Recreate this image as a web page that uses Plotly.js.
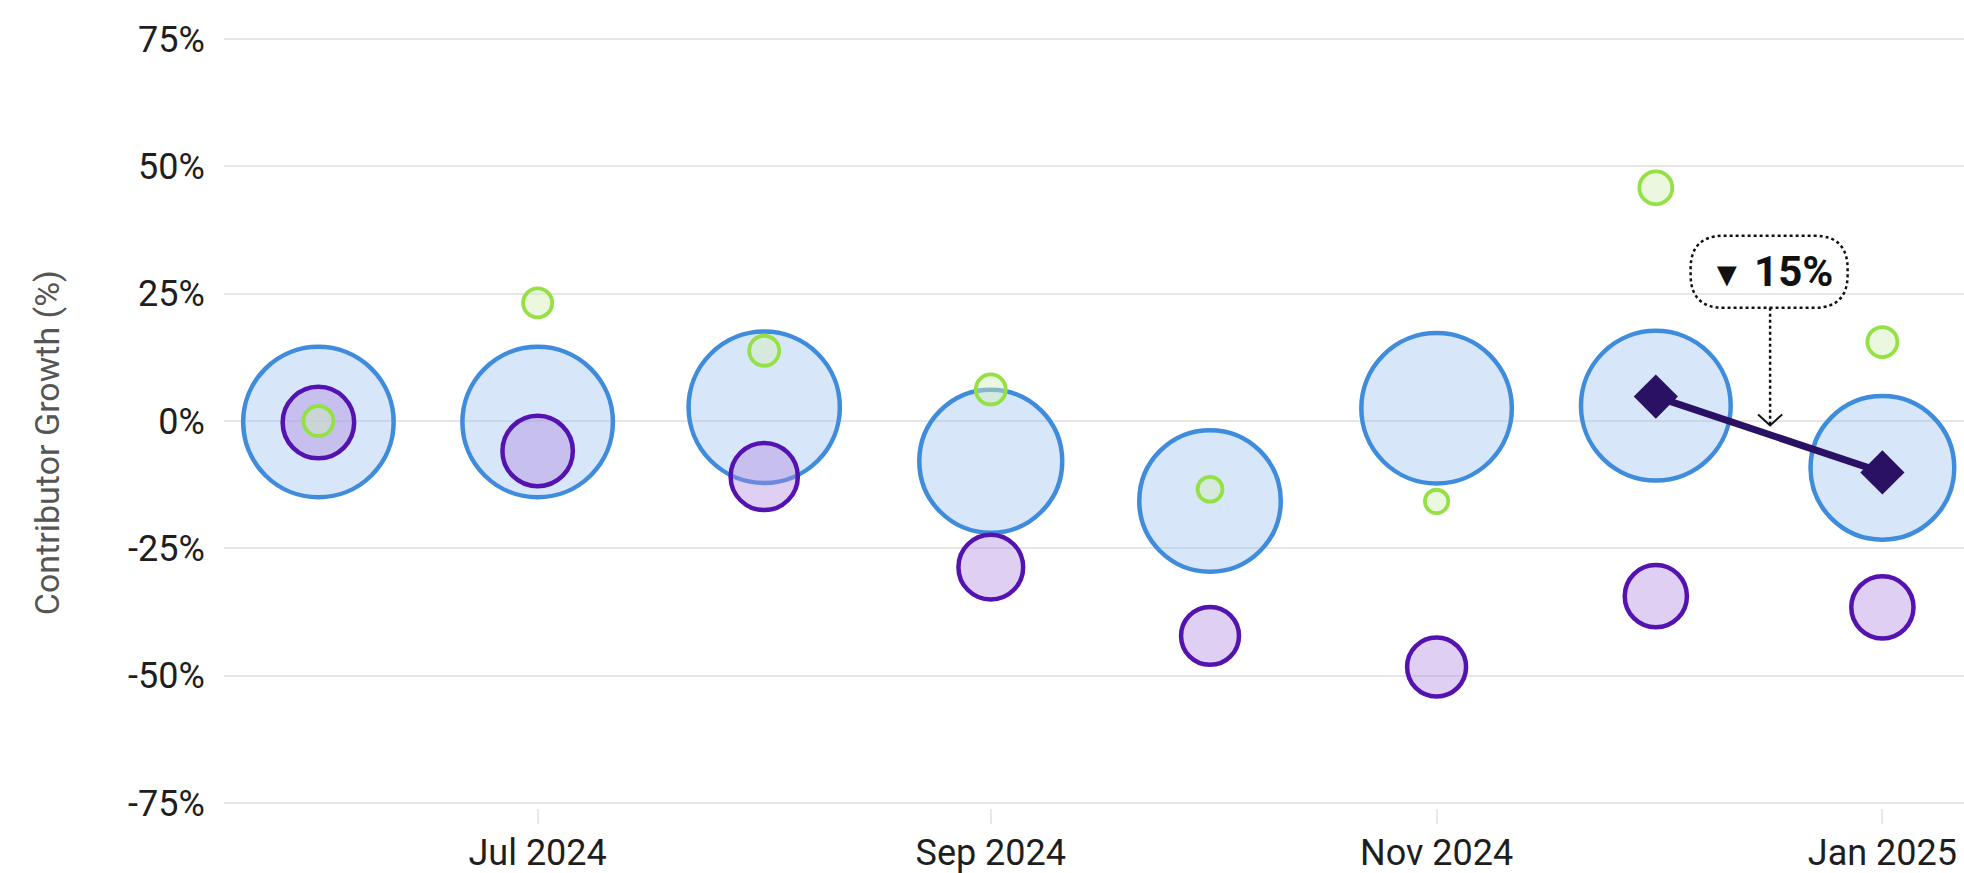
<!DOCTYPE html>
<html>
<head>
<meta charset="utf-8">
<script src="https://cdn.plot.ly/plotly-3.0.1.min.js"></script>
<style>html,body{margin:0;padding:0;background:#fff;}#chart{width:1964px;height:873px;}</style>
</head>
<body>
<div id="chart"></div>
<script>
// ---- data ----
const months = ['2024-06-01','2024-07-01','2024-08-01','2024-09-01','2024-10-01','2024-11-01','2024-12-01','2025-01-01'];
const blueValues   = [-0.2, -0.2, 2.7, -7.9, -15.7, 2.5, 3.0, -9.2];
const purpleValues = [-0.3, -5.9, -10.9, -28.7, -42.2, -48.3, -34.4, -36.6];
const greenValues  = [0.0, 23.2, 13.8, 6.2, -13.4, -15.8, 45.8, 15.5];
const blueMagnitude   = [1.0, 1.0, 1.005, 0.95, 0.94, 1.0, 0.995, 0.955];
const purpleMagnitude = [1.0, 0.985, 0.94, 0.905, 0.81, 0.825, 0.87, 0.87];
const greenMagnitude  = [1.0, 0.97, 1.0, 1.0, 0.83, 0.78, 1.1, 1.0];
const diamondMonths = ['2024-12-01','2025-01-01'];
const diamondValues = [4.8, -10.1];
const yTickVals = [-75, -50, -25, 0, 25, 50, 75];
const yTickText = ['-75%', '-50%', '-25%', '0%', '25%', '50%', '75%'];
const xTickVals = ['2024-07-01','2024-09-01','2024-11-01','2025-01-01'];
const xTickText = ['Jul 2024','Sep 2024','Nov 2024','Jan 2025'];
const yAxisTitle = 'Contributor Growth (%)';

// ---- styles ----
const BLUE_BASE = 150.5, PURPLE_BASE = 71.5, GREEN_BASE = 30;
const FONT = 'Roboto, "Open Sans", sans-serif';

const traces = [
  {
    type: 'scatter', mode: 'markers', x: months, y: blueValues,
    marker: { size: blueMagnitude.map(m => m * BLUE_BASE), opacity: 1, color: 'rgba(150,190,240,0.38)',
              line: { color: '#3f8bdc', width: 4.5 } },
    hoverinfo: 'skip'
  },
  {
    type: 'scatter', mode: 'markers', x: months, y: purpleValues,
    marker: { size: purpleMagnitude.map(m => m * PURPLE_BASE), opacity: 1, color: 'rgba(175,135,225,0.4)',
              line: { color: '#5412b0', width: 4.5 } },
    hoverinfo: 'skip'
  },
  {
    type: 'scatter', mode: 'markers', x: months, y: greenValues,
    marker: { size: greenMagnitude.map(m => m * GREEN_BASE), opacity: 1, color: 'rgba(210,240,185,0.45)',
              line: { color: '#95e044', width: 3.8 } },
    hoverinfo: 'skip'
  },
  {
    type: 'scatter', mode: 'lines+markers', x: diamondMonths, y: diamondValues,
    line: { color: '#2b1163', width: 7 },
    marker: { symbol: 'diamond', size: 34, opacity: 1, color: '#2b1163' },
    hoverinfo: 'skip'
  }
];

// annotation anchored at midpoint of the diamond segment
const t0 = new Date(diamondMonths[0] + 'T00:00:00Z').getTime();
const t1 = new Date(diamondMonths[1] + 'T00:00:00Z').getTime();
const midDate = new Date((t0 + t1) / 2).toISOString().replace('T', ' ').slice(0, 19);
const midVal = (diamondValues[0] + diamondValues[1]) / 2;
const change = Math.round(diamondValues[0] - diamondValues[1]);
const arrowGlyph = diamondValues[1] < diamondValues[0] ? '▼' : '▲';

// box geometry in pixels relative to anchor (y upward)
const bw = 157, bh = 72, br = 33, bcy = 162.7;
const bx0 = -bw / 2, bx1 = bw / 2, by0 = bcy - bh / 2, by1 = bcy + bh / 2;
const boxPath = `M ${bx0 + br} ${by1} L ${bx1 - br} ${by1} Q ${bx1} ${by1} ${bx1} ${by1 - br} L ${bx1} ${by0 + br} Q ${bx1} ${by0} ${bx1 - br} ${by0} L ${bx0 + br} ${by0} Q ${bx0} ${by0} ${bx0} ${by0 + br} L ${bx0} ${by1 - br} Q ${bx0} ${by1} ${bx0 + br} ${by1} Z`;
const stemPath = `M 1 ${by0} L 1 10`;
const headPath = `M -11 20 L 1 9 L 13 20`;

const pixShape = (path, dash, width) => ({
  type: 'path', xref: 'x', yref: 'y', xsizemode: 'pixel', ysizemode: 'pixel',
  xanchor: midDate, yanchor: midVal, path: path,
  line: { color: '#111', width: width, dash: dash }, layer: 'above'
});

const layout = {
  width: 1964, height: 873,
  margin: { l: 224, r: 0, t: 34, b: 65, pad: 0 },
  paper_bgcolor: '#ffffff', plot_bgcolor: '#ffffff',
  showlegend: false,
  font: { family: FONT, color: '#222' },
  xaxis: {
    type: 'date', range: ['2024-05-19 02:00', '2025-01-12 04:00'],
    tickvals: xTickVals, ticktext: xTickText,
    ticks: 'outside', ticklen: 15, tickwidth: 2, tickcolor: '#e8e8e8',
    ticklabelstandoff: -2,
    showgrid: false, zeroline: false, showline: false,
    tickfont: { size: 36, color: '#1e1e1e', family: FONT }
  },
  yaxis: {
    range: [-76, 76], tickvals: yTickVals, ticktext: yTickText,
    ticks: 'outside', ticklen: 11, tickcolor: 'rgba(0,0,0,0)',
    showgrid: true, gridcolor: '#e6e6e6', gridwidth: 2,
    zeroline: false, showline: false,
    tickfont: { size: 36, color: '#1e1e1e', family: FONT }
  },
  shapes: [
    pixShape(boxPath, 'dot', 2.5),
    pixShape(stemPath, 'dot', 2.5),
    pixShape(headPath, 'solid', 2)
  ],
  annotations: [
    {
      x: midDate, y: midVal, xref: 'x', yref: 'y', yshift: bcy, xshift: 2,
      showarrow: false, xanchor: 'center', yanchor: 'middle',
      text: `<span style="font-size:34px">${arrowGlyph}</span> <b>${change}%</b>`,
      font: { size: 42, color: '#111', family: FONT }
    },
    {
      xref: 'paper', yref: 'paper', x: -0.102, y: 0.472,
      xanchor: 'center', yanchor: 'middle', textangle: -90, showarrow: false,
      text: yAxisTitle,
      font: { size: 34, color: '#555', family: FONT }
    }
  ]
};

Plotly.newPlot('chart', traces, layout, { staticPlot: true, displayModeBar: false });
</script>
</body>
</html>
